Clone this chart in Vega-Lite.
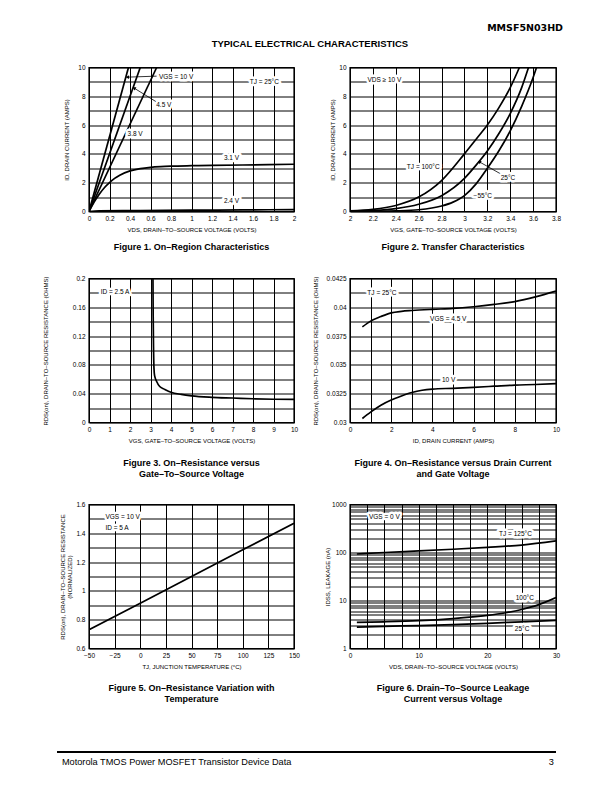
{
"$schema": "https://vega.github.io/schema/vega-lite/v6.json",
"background": "white",
"padding": {"left": 41, "top": 20, "right": 5, "bottom": 5},
"spacing": 14.5,
"config": {
  "font": "Liberation Sans",
  "view": {"stroke": "black", "strokeWidth": 1.4},
  "axis": {"grid": true, "gridColor": "black", "gridWidth": 1, "gridOpacity": 1, "domain": false, "ticks": false, "labelFont": "Liberation Sans", "labelFontSize": 6.5, "labelColor": "black", "labelPadding": 4, "labelFlush": false, "labelOverlap": false, "titleFont": "Liberation Sans", "titleFontSize": 6, "titleFontWeight": "normal", "titleColor": "black", "titlePadding": 4},
  "axisY": {"titleBaseline": "middle", "titleLineHeight": 7},
  "title": {"font": "Liberation Sans", "fontSize": 9, "fontWeight": "bold", "color": "black", "orient": "bottom", "anchor": "middle", "frame": "group", "offset": 12, "baseline": "top", "lineHeight": 10.5},
  "text": {"font": "Liberation Sans", "fontSize": 6.5, "color": "black"}
},
"vconcat": [
  {
    "width": 467, "height": 29,
    "view": {"stroke": null},
    "layer": [
      {"data": {"values": [{"t": "MMSF5N03HD", "x": 1.015, "y": 0.724}]},
       "mark": {"type": "text", "font": "DejaVu Sans", "fontWeight": "bold", "fontSize": 9.5, "align": "right", "baseline": "middle"},
       "encoding": {"x": {"field": "x", "type": "quantitative", "scale": {"domain": [0, 1]}, "axis": null}, "y": {"field": "y", "type": "quantitative", "scale": {"domain": [0, 1]}, "axis": null}, "text": {"field": "t"}}},
      {"data": {"values": [{"t": "TYPICAL ELECTRICAL CHARACTERISTICS", "x": 0.473, "y": 0.172}]},
       "mark": {"type": "text", "fontWeight": "bold", "fontSize": 9.5, "align": "center", "baseline": "middle"},
       "encoding": {"x": {"field": "x", "type": "quantitative", "axis": null}, "y": {"field": "y", "type": "quantitative", "axis": null}, "text": {"field": "t"}}}
    ]
  },
  {
    "spacing": 21,
    "vconcat": [
      {
        "bounds": "flush", "spacing": 56,
        "hconcat": [
          {
            "width": 205, "height": 144,
            "title": {"text": "Figure 1. On–Region Characteristics", "offset": 11},
            "layer": [
              {"data": {"values": [
                {"s": "10V", "x": 0, "y": 0}, {"s": "10V", "x": 0.385, "y": 10},
                {"s": "4.5V", "x": 0, "y": 0}, {"s": "4.5V", "x": 0.5, "y": 10},
                {"s": "3.8V", "x": 0, "y": 0}, {"s": "3.8V", "x": 0.66, "y": 10},
                {"s": "3.1V", "x": 0, "y": 0}, {"s": "3.1V", "x": 0.05, "y": 0.65}, {"s": "3.1V", "x": 0.1, "y": 1.2}, {"s": "3.1V", "x": 0.15, "y": 1.65}, {"s": "3.1V", "x": 0.2, "y": 2.0}, {"s": "3.1V", "x": 0.25, "y": 2.3}, {"s": "3.1V", "x": 0.3, "y": 2.52}, {"s": "3.1V", "x": 0.4, "y": 2.82}, {"s": "3.1V", "x": 0.5, "y": 2.98}, {"s": "3.1V", "x": 0.6, "y": 3.07}, {"s": "3.1V", "x": 0.7, "y": 3.12}, {"s": "3.1V", "x": 0.8, "y": 3.15}, {"s": "3.1V", "x": 1.0, "y": 3.18}, {"s": "3.1V", "x": 1.2, "y": 3.2}, {"s": "3.1V", "x": 1.5, "y": 3.23}, {"s": "3.1V", "x": 2.0, "y": 3.28},
                {"s": "2.4V", "x": 0, "y": 0}, {"s": "2.4V", "x": 0.1, "y": 0.05}, {"s": "2.4V", "x": 0.5, "y": 0.07}, {"s": "2.4V", "x": 1.0, "y": 0.09}, {"s": "2.4V", "x": 1.5, "y": 0.11}, {"s": "2.4V", "x": 2.0, "y": 0.13}
              ]},
               "mark": {"type": "line", "color": "black", "strokeWidth": 1.7, "interpolate": "monotone", "clip": true},
               "encoding": {
                 "x": {"field": "x", "type": "quantitative", "scale": {"domain": [0, 2], "nice": false}, "axis": {"values": [0, 0.2, 0.4, 0.6, 0.8, 1, 1.2, 1.4, 1.6, 1.8, 2], "tickCount": 100, "labelExpr": "format(datum.value, '~g')", "title": "VDS, DRAIN–TO–SOURCE VOLTAGE (VOLTS)"}},
                 "y": {"field": "y", "type": "quantitative", "scale": {"domain": [0, 10], "nice": false}, "axis": {"values": [0, 1, 2, 3, 4, 5, 6, 7, 8, 9, 10], "tickCount": 100, "labelExpr": "datum.value % 2 == 0 ? format(datum.value, '~g') : ''", "title": "ID, DRAIN CURRENT (AMPS)", "titleX": -23}},
                 "detail": {"field": "s"}
               }},
              {"data": {"values": [{"x": 0.66, "y": 9.4, "x2": 0.375, "y2": 9.33}, {"x": 0.66, "y": 7.6, "x2": 0.44, "y2": 8.57}]},
               "mark": {"type": "rule", "color": "black", "strokeWidth": 0.8},
               "encoding": {"x": {"field": "x", "type": "quantitative"}, "y": {"field": "y", "type": "quantitative"}, "x2": {"field": "x2"}, "y2": {"field": "y2"}}},
              {"data": {"values": [{"x": 0.375, "y": 9.33}]},
               "mark": {"type": "point", "shape": "triangle-left", "filled": true, "color": "black", "opacity": 1, "size": 14},
               "encoding": {"x": {"field": "x", "type": "quantitative"}, "y": {"field": "y", "type": "quantitative"}}},
              {"data": {"values": [{"x": 0.44, "y": 8.57}]},
               "mark": {"type": "point", "shape": "triangle-up", "angle": 300, "filled": true, "color": "black", "opacity": 1, "size": 14},
               "encoding": {"x": {"field": "x", "type": "quantitative"}, "y": {"field": "y", "type": "quantitative"}}},
              {"data": {"values": [
                {"t": "VGS = 10 V", "x": 0.85, "y": 9.35}, {"t": "4.5 V", "x": 0.73, "y": 7.37}, {"t": "3.8 V", "x": 0.45, "y": 5.4}, {"t": "TJ = 25°C", "x": 1.71, "y": 9.0}, {"t": "3.1 V", "x": 1.39, "y": 3.7}, {"t": "2.4 V", "x": 1.39, "y": 0.7}
              ]},
               "encoding": {"x": {"field": "x", "type": "quantitative"}, "y": {"field": "y", "type": "quantitative"}, "text": {"field": "t"}},
               "layer": [
                 {"mark": {"type": "text", "fill": "white", "stroke": "white", "strokeWidth": 5, "strokeJoin": "round"}},
                 {"mark": {"type": "text"}}
               ]}
            ]
          },
          {
            "width": 206, "height": 144,
            "title": {"text": "Figure 2. Transfer Characteristics", "offset": 11},
            "layer": [
              {"data": {"values": [
                {"s": "100", "x": 2.0, "y": 0.05}, {"s": "100", "x": 2.2, "y": 0.15}, {"s": "100", "x": 2.4, "y": 0.42}, {"s": "100", "x": 2.6, "y": 1.0}, {"s": "100", "x": 2.8, "y": 2.15}, {"s": "100", "x": 3.0, "y": 4.0}, {"s": "100", "x": 3.1, "y": 5.0}, {"s": "100", "x": 3.2, "y": 6.0}, {"s": "100", "x": 3.3, "y": 7.2}, {"s": "100", "x": 3.4, "y": 8.6}, {"s": "100", "x": 3.48, "y": 10},
                {"s": "25", "x": 2.0, "y": 0.02}, {"s": "25", "x": 2.2, "y": 0.07}, {"s": "25", "x": 2.4, "y": 0.2}, {"s": "25", "x": 2.6, "y": 0.5}, {"s": "25", "x": 2.8, "y": 1.1}, {"s": "25", "x": 3.0, "y": 2.3}, {"s": "25", "x": 3.1, "y": 3.2}, {"s": "25", "x": 3.2, "y": 4.2}, {"s": "25", "x": 3.3, "y": 5.4}, {"s": "25", "x": 3.4, "y": 6.8}, {"s": "25", "x": 3.5, "y": 8.6}, {"s": "25", "x": 3.56, "y": 10},
                {"s": "-55", "x": 2.0, "y": 0.0}, {"s": "-55", "x": 2.2, "y": 0.01}, {"s": "-55", "x": 2.4, "y": 0.04}, {"s": "-55", "x": 2.6, "y": 0.12}, {"s": "-55", "x": 2.8, "y": 0.38}, {"s": "-55", "x": 2.9, "y": 0.65}, {"s": "-55", "x": 3.0, "y": 1.1}, {"s": "-55", "x": 3.1, "y": 1.9}, {"s": "-55", "x": 3.2, "y": 3.0}, {"s": "-55", "x": 3.3, "y": 4.2}, {"s": "-55", "x": 3.4, "y": 5.6}, {"s": "-55", "x": 3.5, "y": 7.3}, {"s": "-55", "x": 3.6, "y": 9.3}, {"s": "-55", "x": 3.63, "y": 10}
              ]},
               "mark": {"type": "line", "color": "black", "strokeWidth": 1.7, "interpolate": "monotone", "clip": true},
               "encoding": {
                 "x": {"field": "x", "type": "quantitative", "scale": {"domain": [2, 3.8], "nice": false, "zero": false}, "axis": {"values": [2, 2.2, 2.4, 2.6, 2.8, 3, 3.2, 3.4, 3.6, 3.8], "tickCount": 100, "labelExpr": "format(datum.value, '~g')", "title": "VGS, GATE–TO–SOURCE VOLTAGE (VOLTS)"}},
                 "y": {"field": "y", "type": "quantitative", "scale": {"domain": [0, 10], "nice": false}, "axis": {"values": [0, 1, 2, 3, 4, 5, 6, 7, 8, 9, 10], "tickCount": 100, "labelExpr": "datum.value % 2 == 0 ? format(datum.value, '~g') : ''", "title": "ID, DRAIN CURRENT (AMPS)", "titleX": -18}},
                 "detail": {"field": "s"}
               }},
              {"data": {"values": [{"x": 3.33, "y": 2.55, "x2": 3.13, "y2": 3.45}]},
               "mark": {"type": "rule", "color": "black", "strokeWidth": 0.8},
               "encoding": {"x": {"field": "x", "type": "quantitative"}, "y": {"field": "y", "type": "quantitative"}, "x2": {"field": "x2"}, "y2": {"field": "y2"}}},
              {"data": {"values": [{"x": 3.13, "y": 3.45}]},
               "mark": {"type": "point", "shape": "triangle-up", "angle": 300, "filled": true, "color": "black", "opacity": 1, "size": 14},
               "encoding": {"x": {"field": "x", "type": "quantitative"}, "y": {"field": "y", "type": "quantitative"}}},
              {"data": {"values": [
                {"t": "VDS ≥ 10 V", "x": 2.3, "y": 9.14}, {"t": "TJ = 100°C", "x": 2.64, "y": 3.08}, {"t": "25°C", "x": 3.38, "y": 2.33}, {"t": "−55°C", "x": 3.16, "y": 1.1}
              ]},
               "encoding": {"x": {"field": "x", "type": "quantitative"}, "y": {"field": "y", "type": "quantitative"}, "text": {"field": "t"}},
               "layer": [
                 {"mark": {"type": "text", "fill": "white", "stroke": "white", "strokeWidth": 5, "strokeJoin": "round"}},
                 {"mark": {"type": "text"}}
               ]}
            ]
          }
        ]
      },
      {
        "bounds": "flush", "spacing": 56,
        "hconcat": [
          {
            "width": 205, "height": 144,
            "title": {"text": ["Figure 3. On–Resistance versus", "Gate–To–Source Voltage"], "offset": 16},
            "layer": [
              {"data": {"values": [
                {"x": 3.12, "y": 0.2}, {"x": 3.13, "y": 0.15}, {"x": 3.15, "y": 0.1}, {"x": 3.17, "y": 0.075}, {"x": 3.2, "y": 0.065}, {"x": 3.3, "y": 0.057}, {"x": 3.45, "y": 0.05}, {"x": 3.7, "y": 0.046}, {"x": 4.0, "y": 0.042}, {"x": 4.5, "y": 0.039}, {"x": 5.0, "y": 0.037}, {"x": 6.0, "y": 0.035}, {"x": 7.0, "y": 0.034}, {"x": 8.0, "y": 0.033}, {"x": 9.0, "y": 0.0323}, {"x": 10.0, "y": 0.032}
              ]},
               "mark": {"type": "line", "color": "black", "strokeWidth": 1.7, "interpolate": "monotone", "clip": true},
               "encoding": {
                 "x": {"field": "x", "type": "quantitative", "scale": {"domain": [0, 10], "nice": false}, "axis": {"values": [0, 1, 2, 3, 4, 5, 6, 7, 8, 9, 10], "tickCount": 100, "labelExpr": "format(datum.value, '~g')", "title": "VGS, GATE–TO–SOURCE VOLTAGE (VOLTS)"}},
                 "y": {"field": "y", "type": "quantitative", "scale": {"domain": [0, 0.2], "nice": false}, "axis": {"values": [0, 0.02, 0.04, 0.06, 0.08, 0.1, 0.12, 0.14, 0.16, 0.18, 0.2], "tickCount": 100, "labelExpr": "round(datum.value * 50) % 2 == 0 ? format(datum.value, '~g') : ''", "title": "RDS(on), DRAIN–TO–SOURCE RESISTANCE (OHMS)", "titleX": -44}}
               }},
              {"data": {"values": [{"t": "ID = 2.5 A", "x": 1.27, "y": 0.1806}]},
               "encoding": {"x": {"field": "x", "type": "quantitative"}, "y": {"field": "y", "type": "quantitative"}, "text": {"field": "t"}},
               "layer": [
                 {"mark": {"type": "text", "fill": "white", "stroke": "white", "strokeWidth": 5, "strokeJoin": "round"}},
                 {"mark": {"type": "text"}}
               ]}
            ]
          },
          {
            "width": 206, "height": 144,
            "title": {"text": ["Figure 4. On–Resistance versus Drain Current", "and Gate Voltage"], "offset": 16},
            "layer": [
              {"data": {"values": [
                {"s": "4.5", "x": 0.6, "y": 0.0383}, {"s": "4.5", "x": 1.0, "y": 0.0388}, {"s": "4.5", "x": 1.5, "y": 0.0392}, {"s": "4.5", "x": 2.0, "y": 0.03952}, {"s": "4.5", "x": 2.5, "y": 0.03965}, {"s": "4.5", "x": 3.0, "y": 0.03972}, {"s": "4.5", "x": 4.0, "y": 0.03982}, {"s": "4.5", "x": 5.0, "y": 0.0399}, {"s": "4.5", "x": 6.0, "y": 0.04005}, {"s": "4.5", "x": 7.0, "y": 0.04025}, {"s": "4.5", "x": 8.0, "y": 0.0405}, {"s": "4.5", "x": 9.0, "y": 0.0409}, {"s": "4.5", "x": 10.0, "y": 0.0414},
                {"s": "10", "x": 0.6, "y": 0.03035}, {"s": "10", "x": 1.0, "y": 0.0309}, {"s": "10", "x": 1.5, "y": 0.0315}, {"s": "10", "x": 2.0, "y": 0.03195}, {"s": "10", "x": 2.5, "y": 0.0323}, {"s": "10", "x": 3.0, "y": 0.0326}, {"s": "10", "x": 3.5, "y": 0.0328}, {"s": "10", "x": 4.0, "y": 0.0329}, {"s": "10", "x": 5.0, "y": 0.03297}, {"s": "10", "x": 6.0, "y": 0.03305}, {"s": "10", "x": 7.0, "y": 0.03315}, {"s": "10", "x": 8.0, "y": 0.03325}, {"s": "10", "x": 9.0, "y": 0.0333}, {"s": "10", "x": 10.0, "y": 0.03338}
              ]},
               "mark": {"type": "line", "color": "black", "strokeWidth": 1.7, "interpolate": "monotone", "clip": true},
               "encoding": {
                 "x": {"field": "x", "type": "quantitative", "scale": {"domain": [0, 10], "nice": false}, "axis": {"values": [0, 1, 2, 3, 4, 5, 6, 7, 8, 9, 10], "tickCount": 100, "labelExpr": "datum.value % 2 == 0 ? format(datum.value, '~g') : ''", "title": "ID, DRAIN CURRENT (AMPS)"}},
                 "y": {"field": "y", "type": "quantitative", "scale": {"domain": [0.03, 0.0425], "nice": false, "zero": false}, "axis": {"values": [0.03, 0.03125, 0.0325, 0.03375, 0.035, 0.03625, 0.0375, 0.03875, 0.04, 0.04125, 0.0425], "tickCount": 100, "labelExpr": "round((datum.value - 0.03) * 800) % 2 == 0 ? format(datum.value, '~g') : ''", "title": "RDS(on), DRAIN–TO–SOURCE RESISTANCE (OHMS)", "titleX": -35}},
                 "detail": {"field": "s"}
               }},
              {"data": {"values": [
                {"t": "TJ = 25°C", "x": 1.55, "y": 0.04128}, {"t": "VGS = 4.5 V", "x": 4.77, "y": 0.03897}, {"t": "10 V", "x": 4.79, "y": 0.0337}
              ]},
               "encoding": {"x": {"field": "x", "type": "quantitative"}, "y": {"field": "y", "type": "quantitative"}, "text": {"field": "t"}},
               "layer": [
                 {"mark": {"type": "text", "fill": "white", "stroke": "white", "strokeWidth": 5, "strokeJoin": "round"}},
                 {"mark": {"type": "text"}}
               ]}
            ]
          }
        ]
      },
      {
        "bounds": "flush", "spacing": 56,
        "hconcat": [
          {
            "width": 205, "height": 144,
            "title": {"text": ["Figure 5. On–Resistance Variation with", "Temperature"], "offset": 15},
            "layer": [
              {"data": {"values": [
                {"x": -50, "y": 0.73}, {"x": 0, "y": 0.915}, {"x": 50, "y": 1.1}, {"x": 100, "y": 1.285}, {"x": 150, "y": 1.47}
              ]},
               "mark": {"type": "line", "color": "black", "strokeWidth": 1.7, "clip": true},
               "encoding": {
                 "x": {"field": "x", "type": "quantitative", "scale": {"domain": [-50, 150], "nice": false}, "axis": {"values": [-50, -25, 0, 25, 50, 75, 100, 125, 150], "tickCount": 100, "labelExpr": "format(datum.value, '~g')", "title": "TJ, JUNCTION TEMPERATURE (°C)"}},
                 "y": {"field": "y", "type": "quantitative", "scale": {"domain": [0.6, 1.6], "nice": false, "zero": false}, "axis": {"values": [0.6, 0.7, 0.8, 0.9, 1, 1.1, 1.2, 1.3, 1.4, 1.5, 1.6], "tickCount": 100, "labelExpr": "round(datum.value * 10) % 2 == 0 ? format(datum.value, '~g') : ''", "title": ["RDS(on), DRAIN–TO–SOURCE RESISTANCE", "(NORMALIZED)"], "titleX": -27}}
               }},
              {"data": {"values": [
                {"t": "VGS = 10 V", "x": -34, "y": 1.51}, {"t": "ID = 5 A", "x": -34, "y": 1.44}
              ]},
               "encoding": {"x": {"field": "x", "type": "quantitative"}, "y": {"field": "y", "type": "quantitative"}, "text": {"field": "t"}},
               "layer": [
                 {"mark": {"type": "text", "align": "left", "fill": "white", "stroke": "white", "strokeWidth": 5, "strokeJoin": "round"}},
                 {"mark": {"type": "text", "align": "left"}}
               ]}
            ]
          },
          {
            "width": 206, "height": 144,
            "title": {"text": ["Figure 6. Drain–To–Source Leakage", "Current versus Voltage"], "offset": 15},
            "layer": [
              {"data": {"values": [
                {"s": "125", "x": 1, "y": 93}, {"s": "125", "x": 5, "y": 100}, {"s": "125", "x": 10, "y": 108}, {"s": "125", "x": 15, "y": 117}, {"s": "125", "x": 20, "y": 128}, {"s": "125", "x": 25, "y": 143}, {"s": "125", "x": 30, "y": 175},
                {"s": "100", "x": 1, "y": 3.5}, {"s": "100", "x": 5, "y": 3.6}, {"s": "100", "x": 10, "y": 3.8}, {"s": "100", "x": 15, "y": 4.2}, {"s": "100", "x": 20, "y": 4.9}, {"s": "100", "x": 22.5, "y": 5.5}, {"s": "100", "x": 25, "y": 6.5}, {"s": "100", "x": 27.5, "y": 8.2}, {"s": "100", "x": 30, "y": 11.5},
                {"s": "25", "x": 1, "y": 2.8}, {"s": "25", "x": 5, "y": 2.9}, {"s": "25", "x": 10, "y": 3.0}, {"s": "25", "x": 15, "y": 3.15}, {"s": "25", "x": 20, "y": 3.35}, {"s": "25", "x": 25, "y": 3.6}, {"s": "25", "x": 30, "y": 3.85}
              ]},
               "mark": {"type": "line", "color": "black", "strokeWidth": 1.7, "interpolate": "monotone", "clip": true},
               "encoding": {
                 "x": {"field": "x", "type": "quantitative", "scale": {"domain": [0, 30], "nice": false}, "axis": {"values": [0, 2.5, 5, 7.5, 10, 12.5, 15, 17.5, 20, 22.5, 25, 27.5, 30], "tickCount": 100, "labelExpr": "datum.value % 10 == 0 ? format(datum.value, 'd') : ''", "title": "VDS, DRAIN–TO–SOURCE VOLTAGE (VOLTS)"}},
                 "y": {"field": "y", "type": "quantitative", "scale": {"type": "log", "domain": [1, 1000], "nice": false}, "axis": {"values": [1, 2, 3, 4, 5, 6, 7, 8, 9, 10, 20, 30, 40, 50, 60, 70, 80, 90, 100, 200, 300, 400, 500, 600, 700, 800, 900, 1000], "tickCount": 100, "labelExpr": "indexof([1, 10, 100, 1000], datum.value) >= 0 ? format(datum.value, 'd') : ''", "title": "IDSS, LEAKAGE (nA)", "titleX": -23}},
                 "detail": {"field": "s"}
               }},
              {"data": {"values": [
                {"t": "VGS = 0 V", "x": 5.0, "y": 552}, {"t": "TJ = 125°C", "x": 24.1, "y": 239}, {"t": "100°C", "x": 25.45, "y": 11.2}, {"t": "25°C", "x": 25.06, "y": 2.59}
              ]},
               "encoding": {"x": {"field": "x", "type": "quantitative"}, "y": {"field": "y", "type": "quantitative", "scale": {"type": "log"}}, "text": {"field": "t"}},
               "layer": [
                 {"mark": {"type": "text", "fill": "white", "stroke": "white", "strokeWidth": 5, "strokeJoin": "round"}},
                 {"mark": {"type": "text"}}
               ]}
            ]
          }
        ]
      }
    ]
  },
  {
    "width": 467, "height": 50,
    "view": {"stroke": null},
    "layer": [
      {"data": {"values": [{"x": -0.0685, "x2": 1, "y": 0.34}]},
       "mark": {"type": "rule", "color": "black", "strokeWidth": 1.8},
       "encoding": {"x": {"field": "x", "type": "quantitative", "scale": {"domain": [0, 1]}, "axis": null}, "x2": {"field": "x2"}, "y": {"field": "y", "type": "quantitative", "scale": {"domain": [0, 1]}, "axis": null}}},
      {"data": {"values": [{"t": "Motorola TMOS Power MOSFET Transistor Device Data", "x": -0.058, "y": 0.14}]},
       "mark": {"type": "text", "fontSize": 9.2, "align": "left", "baseline": "middle"},
       "encoding": {"x": {"field": "x", "type": "quantitative", "axis": null}, "y": {"field": "y", "type": "quantitative", "axis": null}, "text": {"field": "t"}}},
      {"data": {"values": [{"t": "3", "x": 0.99, "y": 0.14}]},
       "mark": {"type": "text", "fontSize": 9.2, "align": "center", "baseline": "middle"},
       "encoding": {"x": {"field": "x", "type": "quantitative", "axis": null}, "y": {"field": "y", "type": "quantitative", "axis": null}, "text": {"field": "t"}}}
    ]
  }
]
}
